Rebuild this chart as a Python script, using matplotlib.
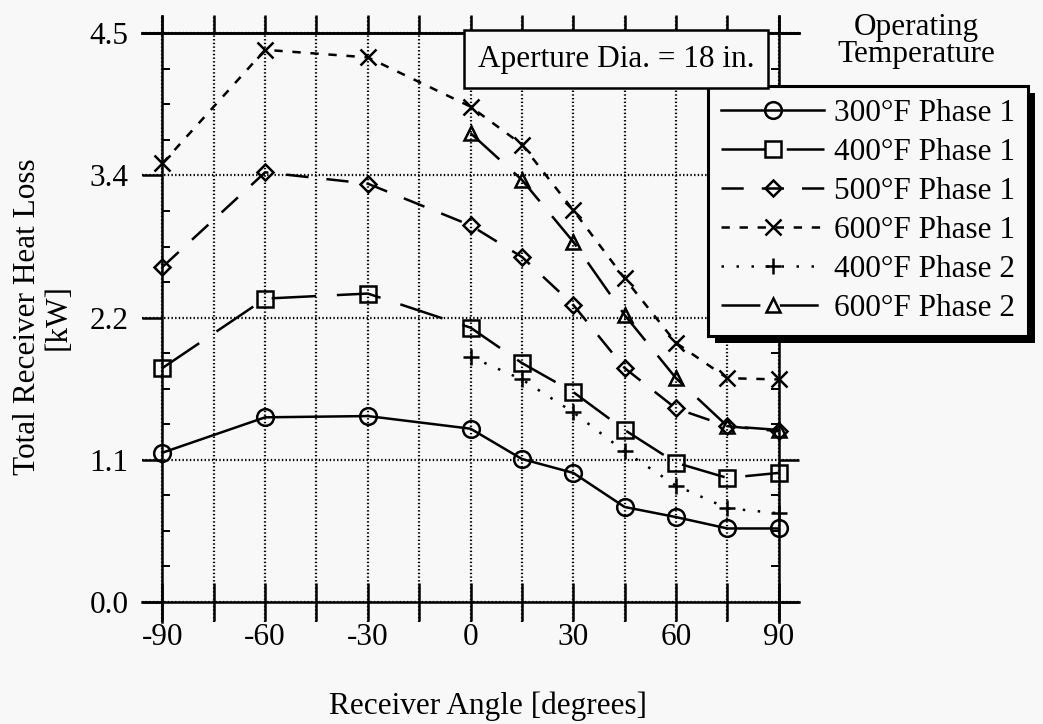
import matplotlib
matplotlib.use("Agg")
import numpy as np
import matplotlib.pyplot as plt
import matplotlib.patheffects as pe

plt.rcParams["font.family"] = ["Liberation Serif", "DejaVu Serif"]
plt.rcParams["font.size"] = 22.5
plt.rcParams["lines.scale_dashes"] = False

# receiver angle [deg]
angles_p1 = [-90, -60, -30, 0, 15, 30, 45, 60, 75, 90]
angles_p2 = [0, 15, 30, 45, 60, 75, 90]

# total receiver heat loss [kW]
loss_300_p1 = [1.18, 1.46, 1.47, 1.37, 1.13, 1.02, 0.75, 0.67, 0.58, 0.58]
loss_400_p1 = [1.85, 2.40, 2.44, 2.17, 1.89, 1.66, 1.36, 1.10, 0.98, 1.02]
loss_500_p1 = [2.65, 3.40, 3.31, 2.98, 2.73, 2.35, 1.85, 1.53, 1.39, 1.35]
loss_600_p1 = [3.47, 4.37, 4.31, 3.92, 3.62, 3.10, 2.56, 2.05, 1.77, 1.76]
loss_400_p2 = [1.94, 1.76, 1.50, 1.19, 0.92, 0.74, 0.70]
loss_600_p2 = [3.71, 3.34, 2.85, 2.27, 1.77, 1.39, 1.36]

labels = ["300°F Phase 1", "400°F Phase 1", "500°F Phase 1",
          "600°F Phase 1", "400°F Phase 2", "600°F Phase 2"]

x_ticks = [-90, -75, -60, -45, -30, -15, 0, 15, 30, 45, 60, 75, 90]
x_tick_labels = [str(v) if v % 30 == 0 else "" for v in x_ticks]
y_ticks = [0.0, 1.125, 2.25, 3.375, 4.5]
y_tick_labels = ["0.0", "1.1", "2.2", "3.4", "4.5"]
y_minor = [v for v in np.arange(0, 4.5, 0.28125) if v not in y_ticks]

bg = "#f8f8f8"
fig = plt.figure(figsize=(10.43, 7.24), dpi=100, facecolor=bg)
ax = fig.add_axes([0.136, 0.141, 0.6303, 0.8373])
ax.set_facecolor(bg)
ax.set_xlim(-96, 96)
ax.set_ylim(-0.16, 4.64)

# 数据曲线
common = dict(color="black", lw=1.8, mfc="none", mec="black", mew=1.8)
ax.plot(angles_p1, loss_300_p1, marker="o", ms=12, ls="-", label=labels[0], **common)
ax.plot(angles_p1, loss_400_p1, marker="s", ms=11, dashes=(32, 15), label=labels[1], **common)
ax.plot(angles_p1, loss_500_p1, marker="D", ms=8, dashes=(16, 13), label=labels[2], **common)
ax.plot(angles_p1, loss_600_p1, marker="x", ms=12, dashes=(6, 7), label=labels[3], **common)
ax.plot(angles_p2, loss_400_p2, marker="+", ms=12, dashes=(1.8, 9), label=labels[4], **common)
ax.plot(angles_p2, loss_600_p2, marker="^", ms=10, dashes=(28, 14), label=labels[5], **common)

# 框线与网格
for side, pos in [("left", -90), ("right", 90), ("bottom", 0), ("top", 4.5)]:
    ax.spines[side].set_position(("data", pos))
    ax.spines[side].set_linewidth(1.8)
ax.grid(True, which="major", linestyle=":", color="black", lw=1.6)
ax.set_axisbelow(True)

ax.set_xticks(x_ticks, x_tick_labels)
ax.set_yticks(y_ticks, y_tick_labels)
ax.set_yticks(y_minor, minor=True)
ax.tick_params(axis="x", which="major", direction="inout", length=27, width=1.8,
               bottom=True, top=False, pad=2)
ax.tick_params(axis="y", which="major", direction="out", length=14.5, width=1.8,
               left=True, right=True, labelright=False, pad=10)
ax.tick_params(axis="y", which="minor", direction="in", length=6, width=1.4,
               left=True, right=True)

top = ax.secondary_xaxis((4.5 + 0.16) / 4.8)
top.set_xticks(x_ticks)
top.tick_params(direction="out", length=13, width=1.8, labeltop=False)
top.spines["top"].set_linewidth(1.8)

fig.text(43 / 1043, 1 - 317 / 724, "Total Receiver Heat Loss\n[kW]", rotation=90,
         ha="center", va="center", linespacing=1.1)
fig.text(488 / 1043, 1 - 706 / 724, "Receiver Angle [degrees]", ha="center", va="center")

fig.text(616 / 1043, 1 - 59 / 724, "Aperture Dia. = 18 in.", ha="center", va="center",
         zorder=5,
         bbox=dict(boxstyle="square,pad=0.45", facecolor=bg, edgecolor="black", lw=1.8))
fig.text(916 / 1043, 1 - 41 / 724, "Operating\nTemperature", ha="center", va="center",
         linespacing=0.95)

leg = ax.legend(loc="upper left", bbox_to_anchor=(708 / 1043, 1 - 86 / 724),
                bbox_transform=fig.transFigure, borderaxespad=0, fancybox=False,
                framealpha=1, facecolor=bg, edgecolor="black", handlelength=3.3,
                handletextpad=0.3, labelspacing=0.32, borderpad=0.42, numpoints=1)
leg.get_frame().set_linewidth(2.2)
leg.get_frame().set_path_effects([
    pe.SimplePatchShadow(offset=(5, -5), shadow_rgbFace="black", alpha=1),
    pe.Normal()])
leg.set_zorder(10)

fig.savefig("out.png", dpi=100, facecolor=bg)
